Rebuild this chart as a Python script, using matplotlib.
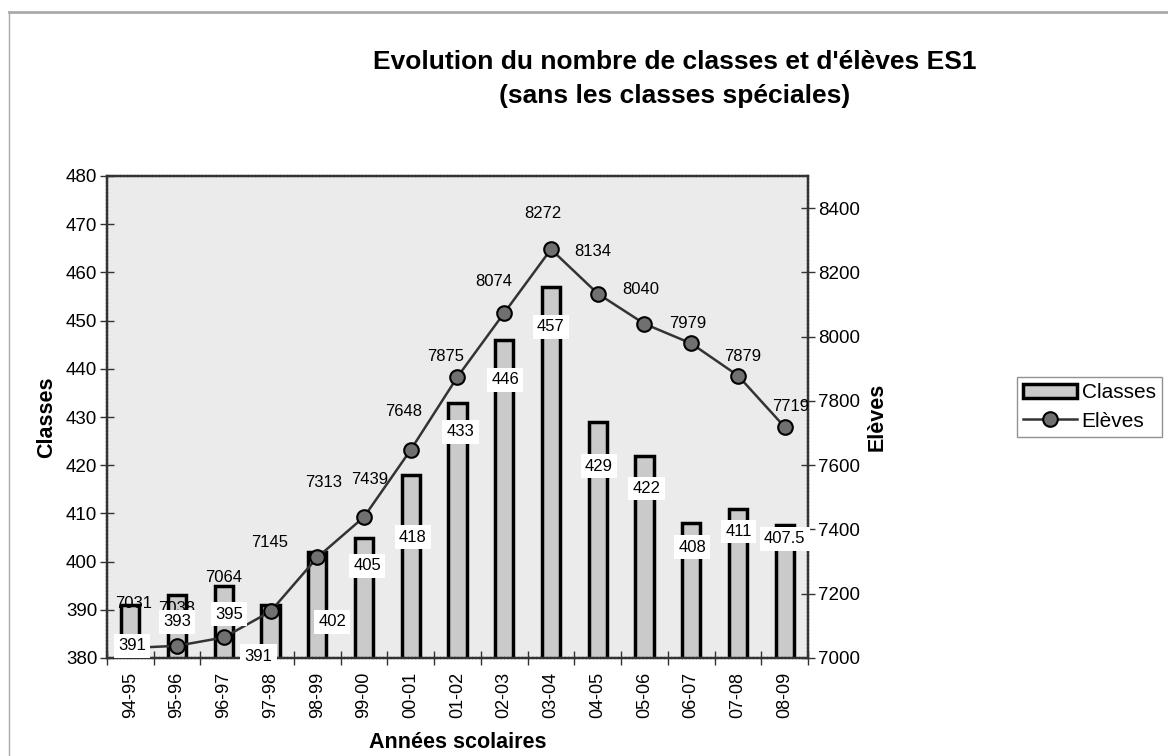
import matplotlib
matplotlib.use('Agg')
import matplotlib.pyplot as plt
import numpy as np

plt.rcParams['font.family'] = ['Liberation Sans', 'DejaVu Sans']

# donnees
annees = ['94-95', '95-96', '96-97', '97-98', '98-99', '99-00', '00-01', '01-02',
          '02-03', '03-04', '04-05', '05-06', '06-07', '07-08', '08-09']
classes = [391, 393, 395, 391, 402, 405, 418, 433, 446, 457, 429, 422, 408, 411, 407.5]
eleves = [7031, 7038, 7064, 7145, 7313, 7439, 7648, 7875, 8074, 8272, 8134, 8040, 7979, 7879, 7719]

# position des etiquettes (deplacees a la main comme dans Excel)
cls_lbl_y = [382.5, 387.5, 389.1, 380.4, 387.5, 399.1, 405.1, 426.9, 437.7, 448.7,
             419.8, 415.1, 403.0, 406.3, 404.7]
cls_lbl_dx = [2, 0, 5, -12, 15, 3, 2, 3, 1, 0, 1, 2, 1, 1, 0]
ele_lbl_off = [(3, 45), (0, 37), (0, 60), (-1, 69), (6, 75), (6, 37), (-7, 38), (-12, 20),
               (-10, 31), (-8, 36), (-5, 42), (-4, 34), (-3, 20), (5, 19), (6, 20)]

x = np.arange(len(annees))

fig = plt.figure(figsize=(11.68, 7.56), dpi=100)
ax = fig.add_axes([107/1168, 1-658/756, 701/1168, 482/756])
ax2 = ax.twinx()

ax.set_facecolor('#ebebeb')
ax.bar(x, classes, width=0.39, color='#cacaca', edgecolor='black', linewidth=2.5,
       label='Classes', zorder=2)
ax.set_ylim(380, 480)
ax.set_xlim(-0.5, len(x) - 0.5)
ax.set_yticks(np.arange(380, 481, 10))

ax2.plot(x, eleves, '-o', color='#333333', lw=1.8, ms=10.5, mfc='#707070', mec='black',
         mew=1.5, label='Elèves', zorder=3)
ax2.set_ylim(7000, 8500)
ax2.set_yticks(np.arange(7000, 8401, 200))

for i, v in enumerate(eleves):
    ax2.annotate(str(v), (x[i], v), xytext=ele_lbl_off[i], textcoords='offset pixels',
                 ha='center', va='center', fontsize=12, zorder=5)

for i, v in enumerate(classes):
    lab = ('%g' % v)
    ax2.annotate(lab, (x[i], cls_lbl_y[i]), xycoords=ax.transData,
                 xytext=(cls_lbl_dx[i], 0), textcoords='offset pixels',
                 ha='center', va='center', fontsize=12, zorder=6,
                 bbox=dict(boxstyle='square,pad=0.25', fc='white', ec='none'))

# axes style
for a in (ax, ax2):
    for s in a.spines.values():
        s.set_color('#333333')
        s.set_linewidth(1.6)
        s.set_linestyle((0, (1, 0.6)))
ax.tick_params(axis='y', direction='inout', length=10, width=1, colors='#333333',
               labelcolor='black', labelsize=13.5, pad=2)
ax2.tick_params(axis='y', direction='inout', length=10, width=1, colors='#333333',
                labelcolor='black', labelsize=13.5, pad=2)
ax.set_xticks(x)
ax.set_xticklabels(annees, rotation=90, fontsize=13)
ax.tick_params(axis='x', which='major', length=0, pad=10)
ax.set_xticks(np.arange(-0.5, len(x), 1), minor=True)
ax.tick_params(axis='x', which='minor', direction='inout', length=10, width=1, colors='#333333')

ax.set_ylabel('Classes', fontsize=15.5, fontweight='bold', labelpad=6)
ax2.set_ylabel('Elèves', fontsize=15.5, fontweight='bold', labelpad=5)
ax.set_xlabel('Années scolaires', fontsize=15.5, fontweight='bold', labelpad=10)

fig.text(675/1168, 1-62/756, "Evolution du nombre de classes et d'élèves ES1",
         ha='center', va='center', fontsize=19, fontweight='bold')
fig.text(675/1168, 1-96/756, "(sans les classes spéciales)",
         ha='center', va='center', fontsize=19, fontweight='bold')

h1, l1 = ax.get_legend_handles_labels()
h2, l2 = ax2.get_legend_handles_labels()
leg = fig.legend(h1 + h2, l1 + l2, loc='upper left', bbox_to_anchor=(1017/1168, 1-377/756),
                 frameon=True, fancybox=False, fontsize=15, handlelength=2.6,
                 handleheight=0.7, borderpad=0.3, labelspacing=0.45, handletextpad=0.2,
                 borderaxespad=0)
leg.get_frame().set_edgecolor('#777777')
leg.get_frame().set_linewidth(1)

# cadre exterieur (haut et gauche)
fig.add_artist(plt.Line2D([9/1168, 1], [1-12/756, 1-12/756], color='#aaaaaa', lw=2))
fig.add_artist(plt.Line2D([9/1168, 9/1168], [0, 1-12/756], color='#aaaaaa', lw=1))

plt.savefig('out.png', dpi=100)
